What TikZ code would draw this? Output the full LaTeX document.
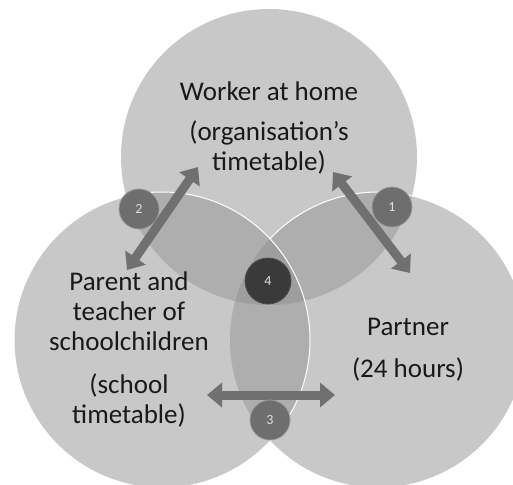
\documentclass[tikz,border=0pt]{standalone}
\usepackage{fontspec}
\setmainfont{Carlito}
\usetikzlibrary{arrows.meta}

\definecolor{ringfill}{HTML}{C8C8C8}
\definecolor{pairfill}{HTML}{AEAEAE}
\definecolor{corefill}{HTML}{9E9E9E}
\definecolor{linkgray}{HTML}{707070}
\definecolor{badgegray}{HTML}{6E6E6E}
\definecolor{badgedark}{HTML}{3A3A3A}

\tikzset{
  roletext/.style={font=\fontsize{27}{30}\selectfont, text=black!90, align=center, anchor=base, inner sep=0pt},
  badge/.style={circle, fill=badgegray, draw=gray!80, line width=0.8pt, minimum size=40pt, inner sep=0pt,
    font=\fontsize{14}{14}\selectfont, text=gray!25},
  link/.style={draw=linkgray, line width=9pt, {Triangle[length=15pt,width=24pt]}-{Triangle[length=15pt,width=24pt]}},
}

\begin{document}
\begin{tikzpicture}[x=1pt, y=-1pt]
  \useasboundingbox (0,0) rectangle (513,484);

  % Circle centres
  \coordinate (work) at (269,157);
  \coordinate (home) at (162,340);
  \coordinate (part) at (378,340);

  % Single regions
  \fill[ringfill] (work) circle[radius=148pt];
  \fill[ringfill] (part) circle[radius=148pt];
  \fill[ringfill] (home) circle[radius=148pt];

  % Overlaps of two circles
  \begin{scope}
    \clip (work) circle[radius=148pt];
    \fill[pairfill] (home) circle[radius=148pt];
    \fill[pairfill] (part) circle[radius=148pt];
  \end{scope}
  \begin{scope}
    \clip (home) circle[radius=148pt];
    \fill[pairfill] (part) circle[radius=148pt];
  \end{scope}

  % Overlap of all three
  \begin{scope}
    \clip (work) circle[radius=148pt];
    \clip (home) circle[radius=148pt];
    \fill[corefill] (part) circle[radius=148pt];
  \end{scope}

  % White rims
  \draw[white, line width=1pt] ([shift={(part)}] -137:148pt) arc[start angle=-137, end angle=137, radius=148pt];
  \draw[white, line width=1pt] (home) circle[radius=148pt];

  % Labels (base = last line)
  \node[roletext] (worker) at (269,100) {Worker at home};
  \node[roletext] (workertime) at (269,170) {(organisation’s\\timetable)};
  \node[roletext] (parent) at (129,350) {Parent and\\teacher of\\schoolchildren};
  \node[roletext] (parenttime) at (129,423) {(school\\timetable)};
  \node[roletext] (partner) at (408,335) {Partner};
  \node[roletext] (partnertime) at (408,377) {(24 hours)};

  % Badge under arrow 2
  \node[badge] (b2) at (139,209) {2};

  % Arrows between roles
  \coordinate (w1) at (333,172);
  \coordinate (p1) at (410,273);
  \coordinate (w2) at (198,167);
  \coordinate (h2) at (127,270);
  \coordinate (h3) at (207,395);
  \coordinate (p3) at (335,395);
  \draw[link] (w1) -- (p1);
  \draw[link] (w2) -- (h2);
  \draw[link] (h3) -- (p3);

  % Badges
  \node[badge] (b1) at (392,207) {1};
  \node[badge] (b3) at (270,420) {3};
  \node[badge, fill=badgedark, draw=gray!60!black, minimum size=46pt] (b4) at (268,281) {4};

\end{tikzpicture}
\end{document}
